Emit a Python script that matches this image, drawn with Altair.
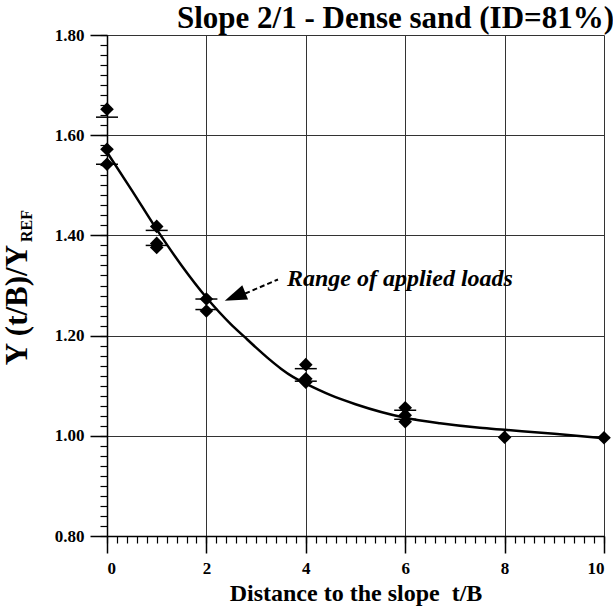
import altair as alt
import pandas as pd
import numpy as np

SERIF = "Liberation Serif"

# ---- data ----
diamond_x = [0, 0, 0, 1, 1, 1, 2, 2, 4, 4, 4, 6, 6, 6, 8, 10]
diamond_y = [1.652, 1.572, 1.542, 1.418, 1.384, 1.376, 1.273, 1.249,
             1.142, 1.114, 1.107, 1.056, 1.041, 1.028, 0.997, 0.996]

dash_x = [0, 0, 1, 1, 2, 2, 4, 4, 6, 6]
dash_y = [1.636, 1.542, 1.410, 1.380, 1.273, 1.252, 1.134, 1.109, 1.051, 1.033]

curve_x = [0, 0.5, 1, 1.5, 2, 2.5, 2.75, 3, 3.25, 3.5, 3.75, 4, 4.25, 4.5, 5,
           6, 6.7, 7.5, 8, 9, 10]
curve_y = [1.566, 1.490, 1.412, 1.340, 1.276, 1.222, 1.199, 1.176, 1.154, 1.134,
           1.117, 1.104, 1.092, 1.081, 1.063, 1.036, 1.025, 1.016, 1.012, 1.004,
           0.995]

x_major = [0, 2, 4, 6, 8, 10]
y_major = [0.8, 1.0, 1.2, 1.4, 1.6, 1.8]
x_minor = [round(v, 2) for v in np.arange(0, 10.001, 0.2)]
y_minor = [round(v, 3) for v in np.arange(0.8, 1.8001, 0.02)]

title_text = "Slope 2/1 - Dense sand (ID=81%)"
x_title = "Distance to the slope\u00a0 t/B"
y_title_main = "Y (t/B)/Y"
y_title_sub = "REF"
note_text = "Range of applied loads"
note_pos = {"x": [3.62], "y": [1.30]}
arrow_line = {"x": [2.78], "y": [1.284], "x2": [3.44], "y2": [1.312]}
arrow_head = {"x": [2.575], "y": [1.278]}

curve_df = pd.DataFrame({"x": curve_x, "y": curve_y})
diamond_df = pd.DataFrame({"x": diamond_x, "y": diamond_y})
dash_df = pd.DataFrame({"x": dash_x, "y": dash_y})

xs = alt.Scale(domain=[0, 10], nice=False, zero=False)
ys = alt.Scale(domain=[0.8, 1.8], nice=False, zero=False)

x_major_axis = alt.Axis(values=x_major, format="d", orient="bottom", grid=True,
                        gridColor="#333", gridWidth=1, gridOpacity=1,
                        domainColor="black", domainWidth=1.5,
                        tickColor="black", tickWidth=1.5, tickSize=17,
                        labelFont=SERIF, labelFontSize=17, labelFontWeight="bold",
                        labelColor="black", labelPadding=7,
                        title=x_title, titleFont=SERIF, titleFontSize=24,
                        titleFontWeight="bold", titleColor="black", titlePadding=5)
y_major_axis = alt.Axis(values=y_major, format=".2f", orient="left", grid=True,
                        gridColor="#333", gridWidth=1, gridOpacity=1,
                        domainColor="black", domainWidth=1.5,
                        tickColor="black", tickWidth=1.5, tickSize=17,
                        labelFont=SERIF, labelFontSize=17, labelFontWeight="bold",
                        labelColor="black", labelPadding=6, title=None)
x_minor_axis = alt.Axis(values=x_minor, orient="bottom", grid=False, domain=False,
                        labels=False, tickColor="black", tickWidth=1.2, tickSize=7,
                        title=None)
y_minor_axis = alt.Axis(values=y_minor, orient="left", grid=False, domain=False,
                        labels=False, tickColor="black", tickWidth=1.2, tickSize=7,
                        title=None)

curve = alt.Chart(curve_df).mark_line(color="black", strokeWidth=2.5,
                                      interpolate="monotone").encode(
    x=alt.X("x:Q", scale=xs, axis=x_major_axis),
    y=alt.Y("y:Q", scale=ys, axis=y_major_axis),
)

diamonds = alt.Chart(diamond_df).mark_point(shape="diamond", filled=True, size=185,
                                             color="black", opacity=1).encode(
    x=alt.X("x:Q", scale=xs, axis=x_minor_axis),
    y=alt.Y("y:Q", scale=ys, axis=y_minor_axis),
)

dashes = alt.Chart(dash_df).mark_tick(orient="horizontal", size=22, thickness=1.5,
                                      color="black", opacity=1).encode(
    x=alt.X("x:Q", scale=xs, axis=None),
    y=alt.Y("y:Q", scale=ys, axis=None),
)

arrow_l = alt.Chart(pd.DataFrame(arrow_line)).mark_rule(
    color="black", strokeWidth=2, strokeDash=[5, 3]).encode(
    x=alt.X("x:Q", scale=xs, axis=None), x2="x2:Q",
    y=alt.Y("y:Q", scale=ys, axis=None), y2="y2:Q",
)

arrow_h = alt.Chart(pd.DataFrame(arrow_head)).mark_point(
    shape="M-1,0L1,-0.7L1,0.7Z", filled=True, size=484, angle=338,
    color="black", opacity=1).encode(
    x=alt.X("x:Q", scale=xs, axis=None),
    y=alt.Y("y:Q", scale=ys, axis=None),
)

note = alt.Chart(pd.DataFrame(note_pos)).mark_text(
    text=note_text, font=SERIF, fontSize=24, fontStyle="italic", fontWeight="bold",
    align="left", baseline="alphabetic", color="black").encode(
    x=alt.X("x:Q", scale=xs, axis=None),
    y=alt.Y("y:Q", scale=ys, axis=None),
)

ytitle_main = alt.Chart(pd.DataFrame({"t": [y_title_main]})).mark_text(
    font=SERIF, fontSize=31, fontWeight="bold", angle=270, align="center",
    baseline="alphabetic", color="black").encode(
    text="t:N", x=alt.value(-80), y=alt.value(270))

ytitle_sub = alt.Chart(pd.DataFrame({"t": [y_title_sub]})).mark_text(
    font=SERIF, fontSize=16, fontWeight="bold", angle=270, align="left",
    baseline="alphabetic", color="black").encode(
    text="t:N", x=alt.value(-75), y=alt.value(207))

chart = alt.layer(
    curve, diamonds, dashes, arrow_l, arrow_h, note, ytitle_main, ytitle_sub
).resolve_axis(x="independent", y="independent").properties(
    width=497, height=501,
    autosize=alt.AutoSizeParams(type="none"),
    padding={"left": 107, "top": 35, "right": 9, "bottom": 77},
    background="white",
    title=alt.TitleParams(text=title_text, font=SERIF, fontSize=31,
                          fontWeight="bold", color="black", anchor="middle",
                          frame="group", dx=40, dy=9, offset=0),
).configure_view(stroke=None)

chart.save("out.html", embed_options={"renderer": "svg", "actions": False})
